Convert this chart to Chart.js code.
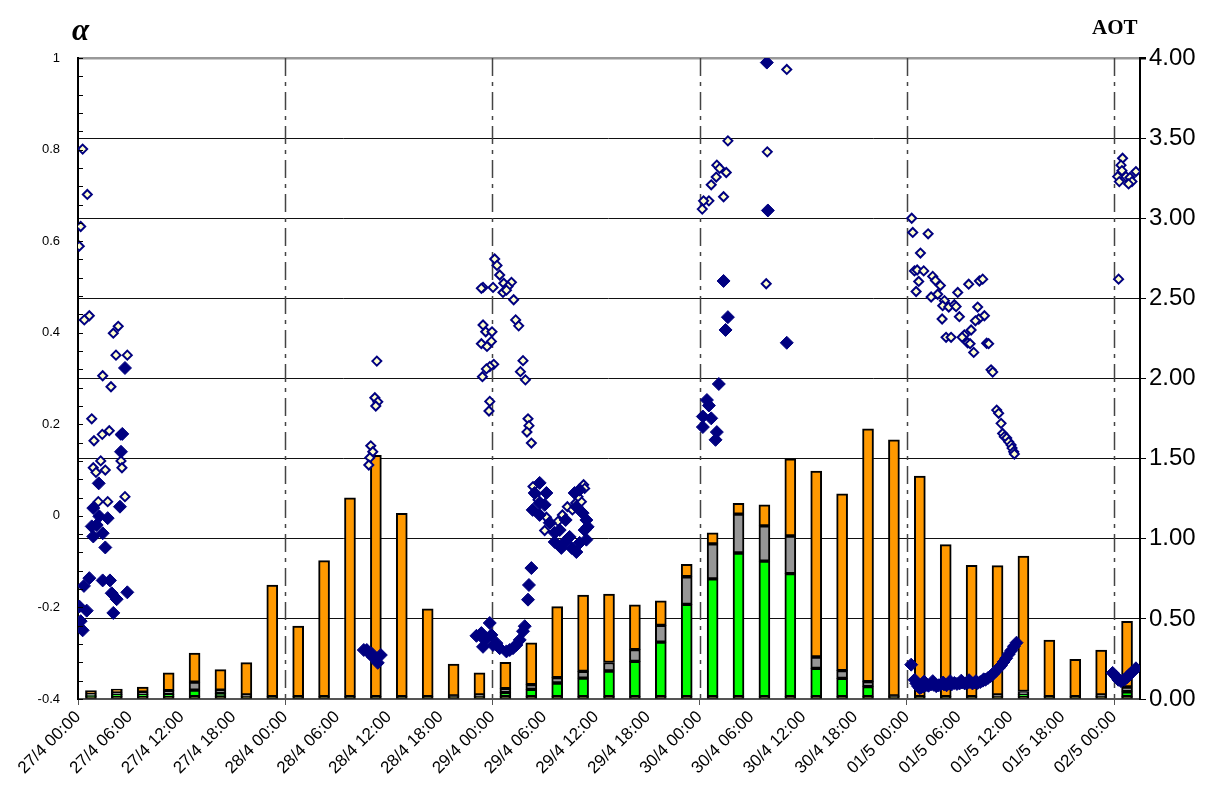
<!DOCTYPE html>
<html>
<head>
<meta charset="utf-8">
<script src="https://cdn.jsdelivr.net/npm/chart.js@4.4.1/dist/chart.umd.min.js"></script>
<style>
  body { margin: 0; background: #fff; }
  #wrap { position: relative; width: 1206px; height: 799px; }
  .lbl { position: absolute; font-family: "Liberation Serif", "DejaVu Serif", serif; font-weight: bold; color: #000; }
  #alpha { left: 72px; top: 12px; font-size: 31px; font-style: italic; }
  #aot { left: 1092px; top: 15px; font-size: 21px; }
</style>
</head>
<body>
<div id="wrap">
  <canvas id="chart" width="1206" height="799"></canvas>
  <div class="lbl" id="alpha">α</div>
  <div class="lbl" id="aot">AOT</div>
</div>
<script>
// hours since 27/4 00:00
const timeLabels = ['27/4 00:00', '27/4 06:00', '27/4 12:00', '27/4 18:00',
  '28/4 00:00', '28/4 06:00', '28/4 12:00', '28/4 18:00',
  '29/4 00:00', '29/4 06:00', '29/4 12:00', '29/4 18:00',
  '30/4 00:00', '30/4 06:00', '30/4 12:00', '30/4 18:00',
  '01/5 00:00', '01/5 06:00', '01/5 12:00', '01/5 18:00', '02/5 00:00'];
const dayLines = [24, 48, 72, 96, 120];

// AOT bars (3-hourly), stacked bottom to top
const barHours = [1.5, 4.5, 7.5, 10.5, 13.5, 16.5, 19.5, 22.5, 25.5, 28.5, 31.5, 34.5, 37.5, 40.5,
  43.5, 46.5, 49.5, 52.5, 55.5, 58.5, 61.5, 64.5, 67.5, 70.5, 73.5, 76.5, 79.5, 82.5, 85.5,
  88.5, 91.5, 94.5, 97.5, 100.5, 103.5, 106.5, 109.5, 112.5, 115.5, 118.5, 121.5];
const aotBase = [0.015, 0.015, 0.015, 0.015, 0.015, 0.015, 0.015, 0.015, 0.015, 0.015, 0.015, 0.015, 0.015, 0.015,
  0.015, 0.015, 0.015, 0.015, 0.015, 0.015, 0.015, 0.015, 0.015, 0.015, 0.015, 0.015, 0.015, 0.015, 0.015,
  0.015, 0.015, 0.015, 0.015, 0.015, 0.015, 0.015, 0.015, 0.015, 0.015, 0.015, 0.015];
const aotGreen = [0.005, 0.012, 0.012, 0.012, 0.04, 0.02, 0, 0, 0, 0, 0, 0, 0, 0,
  0, 0, 0.025, 0.045, 0.085, 0.115, 0.16, 0.22, 0.34, 0.575, 0.735, 0.896, 0.845, 0.767, 0.176,
  0.114, 0.062, 0, 0, 0, 0, 0, 0.012, 0, 0, 0, 0.03];
const aotGray = [0.012, 0.012, 0.015, 0.025, 0.05, 0.02, 0.01, 0, 0, 0, 0, 0, 0, 0,
  0.005, 0.01, 0.025, 0.03, 0.033, 0.042, 0.053, 0.073, 0.104, 0.173, 0.218, 0.243, 0.22, 0.235, 0.071,
  0.048, 0.031, 0.005, 0, 0, 0, 0.01, 0.02, 0, 0, 0.01, 0.03];
const aotOrange = [0.02, 0.023, 0.033, 0.112, 0.182, 0.128, 0.202, 0.696, 0.44, 0.848, 1.241, 1.505, 1.143, 0.548,
  0.198, 0.139, 0.164, 0.261, 0.443, 0.477, 0.427, 0.28, 0.154, 0.077, 0.069, 0.067, 0.132, 0.482, 1.16,
  1.104, 1.578, 1.598, 1.376, 0.948, 0.819, 0.807, 0.845, 0.353, 0.233, 0.281, 0.41];

// alpha, open diamonds
const openHours = [0.54, 1.08, 0.31, 0.15, 1.31, 0.73, 4.66, 4.09, 4.40, 5.71, 2.86, 3.82, 1.59, 1.85,
  2.81, 3.62, 4.94, 2.63, 4.98, 1.77, 2.08, 3.16, 5.09, 5.44, 2.35, 3.44,
  34.61, 34.38, 34.72, 34.49, 33.91, 34.14, 33.80, 33.68,
  48.26, 48.53, 48.84, 49.31, 50.20, 49.80, 46.91, 46.72, 48.07, 49.22, 49.62, 50.46, 50.69, 51.04,
  46.91, 47.22, 47.95, 47.88, 46.72, 47.37, 48.15, 47.69, 47.30, 46.84, 51.54, 51.24, 51.82, 47.69,
  47.60, 52.12, 52.23, 52.00, 52.51,
  52.70, 52.97, 53.28, 54.25, 54.05, 54.71, 55.59, 56.10, 56.68, 57.26, 57.64, 58.30, 58.56, 58.68, 57.91,
  82.09, 75.27, 79.83, 73.99, 74.31, 75.08, 73.92, 73.34, 74.77, 73.07, 72.45, 72.30, 79.71,
  96.56, 96.68, 98.46, 97.57, 96.88, 97.19, 97.95, 97.37, 98.99, 99.31, 99.88, 97.07, 98.81, 99.57,
  101.89, 103.16, 104.40, 104.78, 100.35, 100.15, 100.85, 101.50, 101.70, 100.08, 102.08, 104.20,
  104.98, 104.32, 103.94, 100.54, 101.12, 102.66, 102.40, 103.44, 103.04, 103.32, 103.74, 105.24,
  105.47, 105.75, 105.94, 106.40, 106.63, 106.91, 107.09, 107.29, 107.56, 107.79, 108.07, 108.18,
  108.37, 108.45,
  120.98, 120.80, 120.91, 122.53, 120.41, 121.38, 121.84, 120.60, 122.07, 121.68, 120.52];
const openAlpha = [0.801, 0.702, 0.632, 0.589, 0.437, 0.428, 0.414, 0.399, 0.351, 0.351, 0.306, 0.282, 0.212, 0.164,
  0.178, 0.186, 0.177, 0.120, 0.120, 0.105, 0.095, 0.100, 0.105, 0.042, 0.031, 0.031,
  0.338, 0.258, 0.249, 0.240, 0.153, 0.140, 0.127, 0.111,
  0.561, 0.547, 0.526, 0.508, 0.510, 0.501, 0.499, 0.497, 0.499, 0.488, 0.493, 0.472, 0.428, 0.415,
  0.417, 0.402, 0.402, 0.381, 0.376, 0.370, 0.331, 0.326, 0.321, 0.304, 0.339, 0.315, 0.297, 0.250,
  0.229, 0.212, 0.197, 0.183, 0.159,
  0.064, 0.046, 0.035, -0.003, -0.032, -0.017, -0.012, 0.002, 0.020, 0.013, 0.028, 0.031, 0.068, 0.060, 0.042,
  0.975, 0.819, 0.795, 0.766, 0.759, 0.750, 0.740, 0.723, 0.697, 0.688, 0.688, 0.670, 0.507,
  0.650, 0.619, 0.616, 0.574, 0.535, 0.537, 0.535, 0.512, 0.523, 0.514, 0.503, 0.490, 0.478, 0.484,
  0.488, 0.506, 0.513, 0.517, 0.470, 0.459, 0.456, 0.461, 0.457, 0.430, 0.435, 0.456,
  0.437, 0.430, 0.426, 0.390, 0.390, 0.395, 0.390, 0.406, 0.378, 0.376, 0.357, 0.377,
  0.376, 0.319, 0.314, 0.231, 0.224, 0.202, 0.180, 0.173, 0.170, 0.162, 0.155, 0.148,
  0.140, 0.135,
  0.781, 0.766, 0.754, 0.752, 0.741, 0.741, 0.739, 0.730, 0.730, 0.725, 0.517];

// alpha, filled diamonds
const filledHours = [5.44, 5.13, 4.98, 2.40, 1.77, 4.86, 2.47, 3.44, 1.59, 2.16, 2.86, 1.77, 3.16, 1.31,
  0.69, 2.86, 3.70, 3.90, 4.48, 5.71, 0.15, 4.09, 1.01, 0.31, 0.54,
  33.45, 34.03, 34.49, 34.72, 34.14, 33.68, 33.10, 35.07,
  47.69, 46.72, 47.11, 47.88, 46.91, 48.07, 48.84, 49.62, 50.38, 51.16, 51.54, 51.74, 46.15, 48.46,
  50.00, 50.77, 52.51, 52.23, 52.12,
  53.47, 52.89, 53.47, 52.66, 53.47, 54.63, 55.21, 55.21, 55.98, 56.37, 56.94, 57.72, 58.10, 58.88,
  58.68, 58.88, 58.45, 57.72, 57.52, 58.10, 54.25, 54.05, 55.79, 57.18, 59.03, 56.48,
  79.78, 79.90, 74.77, 75.27, 75.00, 82.09, 74.22, 72.84, 73.07, 72.37, 73.34, 72.37, 73.99, 73.84,
  96.5, 96.9, 97.1, 97.3, 97.5, 97.7, 97.9, 98.2, 98.5, 98.8, 99.1, 99.4, 99.7, 100.0, 100.3,
  100.6, 100.9, 101.2, 101.5, 101.8, 102.1, 102.4, 102.7, 103.0, 103.3, 103.6, 103.9, 104.2, 104.5,
  104.8, 105.1, 105.4, 105.7, 106.0, 106.3, 106.6, 106.9, 107.2, 107.5, 107.8, 108.1, 108.4, 108.7,
  98.0, 99.0, 100.2, 101.0, 102.3, 103.2, 104.0, 104.9,
  119.83, 120.22, 120.49, 120.80, 121.18, 121.53, 121.76, 122.11, 122.53];
const filledAlpha = [0.323, 0.179, 0.140, 0.071, 0.017, 0.020, -0.001, -0.005, -0.023, -0.020, -0.038, -0.045, -0.069, -0.136,
  -0.153, -0.141, -0.141, -0.169, -0.182, -0.167, -0.198, -0.212, -0.207, -0.230, -0.250,
  -0.293, -0.301, -0.312, -0.321, -0.308, -0.299, -0.293, -0.304,
  -0.234, -0.256, -0.271, -0.260, -0.286, -0.282, -0.289, -0.296, -0.289, -0.271, -0.252, -0.241, -0.262, -0.278,
  -0.293, -0.282, -0.114, -0.151, -0.183,
  0.072, 0.050, 0.028, 0.013, 0.002, -0.015, -0.037, -0.057, -0.070, -0.057, -0.046, -0.079, -0.059, -0.052,
  -0.031, -0.009, 0.006, 0.020, 0.050, 0.057, 0.050, 0.024, -0.031, -0.070, -0.024, -0.009,
  0.990, 0.667, 0.513, 0.434, 0.406, 0.378, 0.288, 0.253, 0.241, 0.217, 0.213, 0.194, 0.183, 0.166,
  -0.325, -0.358, -0.366, -0.372, -0.376, -0.374, -0.372, -0.370, -0.371, -0.368, -0.369, -0.372, -0.370, -0.367,
  -0.368, -0.370, -0.366, -0.368, -0.365, -0.367, -0.366, -0.364, -0.366, -0.365, -0.363, -0.366, -0.364, -0.365,
  -0.363, -0.360, -0.358, -0.354, -0.350, -0.345, -0.339, -0.333, -0.327, -0.319, -0.311, -0.302, -0.294, -0.285, -0.277,
  -0.362, -0.361, -0.364, -0.361, -0.360, -0.359, -0.361, -0.357,
  -0.343, -0.351, -0.358, -0.361, -0.358, -0.352, -0.347, -0.341, -0.333];

const toPoints = (xs, ys) => xs.map((x, i) => ({ x: x, y: ys[i] }));

const barSet = (label, values, color) => ({
  type: 'bar',
  label: label,
  data: toPoints(barHours, values),
  yAxisID: 'y1',
  stack: 'aot',
  grouped: false,
  backgroundColor: color,
  borderColor: '#000',
  borderWidth: 2,
  borderSkipped: false,
  barThickness: 11,
  order: 1
});

// day separators (dash-dot) and small inner ticks on the alpha axis
const extras = {
  id: 'extras',
  beforeDatasetsDraw(chart) {
    const { ctx, chartArea, scales } = chart;
    ctx.save();
    ctx.strokeStyle = '#444';
    ctx.lineWidth = 1.5;
    ctx.setLineDash([18, 6, 4, 6]);
    dayLines.forEach(h => {
      const x = Math.round(scales.x.getPixelForValue(h)) + 0.5;
      ctx.beginPath();
      ctx.moveTo(x, chartArea.top);
      ctx.lineTo(x, chartArea.bottom);
      ctx.stroke();
    });
    ctx.restore();
  },
  afterDraw(chart) {
    const { ctx, chartArea, scales } = chart;
    ctx.save();
    ctx.strokeStyle = '#000';
    ctx.lineWidth = 1;
    for (let i = 0; i <= 35; i++) {
      const y = Math.round(scales.y.getPixelForValue(-0.4 + i * 0.04)) + 0.5;
      ctx.beginPath();
      ctx.moveTo(chartArea.left, y);
      ctx.lineTo(chartArea.left + 5, y);
      ctx.stroke();
    }
    ctx.restore();
  }
};

new Chart(document.getElementById('chart'), {
  type: 'bar',
  data: {
    datasets: [
      {
        type: 'scatter',
        label: 'alpha (filled)',
        data: toPoints(filledHours, filledAlpha),
        yAxisID: 'y',
        pointStyle: 'rectRot',
        pointRadius: 6.5,
        backgroundColor: '#000080',
        borderColor: '#000080',
        borderWidth: 1,
        order: 0
      },
      {
        type: 'scatter',
        label: 'alpha (open)',
        data: toPoints(openHours, openAlpha),
        yAxisID: 'y',
        pointStyle: 'rectRot',
        pointRadius: 4.5,
        backgroundColor: '#FFFFCC',
        borderColor: '#000080',
        borderWidth: 2,
        order: 0
      },
      barSet('base', aotBase, '#333300'),
      barSet('fine', aotGreen, '#00FF00'),
      barSet('mid', aotGray, '#969696'),
      barSet('coarse', aotOrange, '#FF9900')
    ]
  },
  options: {
    responsive: false,
    animation: false,
    layout: { padding: { top: 58, left: 0, right: 0, bottom: 0 } },
    plugins: { legend: { display: false }, tooltip: { enabled: false } },
    scales: {
      x: {
        type: 'linear',
        min: 0,
        max: 123,
        offset: false,
        afterFit: s => { s.height = 100; },
        border: { color: '#555', width: 2 },
        grid: {
          offset: false,
          drawOnChartArea: false,
          tickLength: 6,
          tickColor: c => (c.tick && c.tick.value % 24 === 0) ? '#555' : 'rgba(0,0,0,0)'
        },
        ticks: {
          stepSize: 6,
          includeBounds: false,
          autoSkip: false,
          maxRotation: 45,
          minRotation: 45,
          padding: 2,
          color: '#000',
          font: { family: 'Liberation Sans, Arial', size: 17 },
          callback: v => (v % 6 === 0 ? timeLabels[v / 6] : '')
        }
      },
      y: {
        position: 'left',
        min: -0.4,
        max: 1,
        afterFit: s => { s.width = 78; },
        border: { color: '#000', width: 2 },
        grid: { drawOnChartArea: false, drawTicks: false },
        ticks: {
          stepSize: 0.2,
          padding: 18,
          color: '#000',
          font: { family: 'Liberation Sans, Arial', size: 13 },
          callback: v => String(Math.round(v * 10) / 10)
        }
      },
      y1: {
        position: 'right',
        stacked: true,
        min: 0,
        max: 4,
        afterFit: s => { s.width = 66; },
        border: { color: '#000', width: 2 },
        grid: {
          color: c => c.tick.value === 4 ? '#999' : (c.tick.value === 0 ? 'rgba(0,0,0,0)' : '#111'),
          lineWidth: c => c.tick.value === 4 ? 2.5 : 1,
          tickColor: '#000',
          tickLength: 6
        },
        ticks: {
          stepSize: 0.5,
          padding: 3,
          color: '#000',
          font: { family: 'Liberation Sans, Arial', size: 24 },
          callback: v => v.toFixed(2)
        }
      }
    }
  },
  plugins: [extras]
});
</script>
</body>
</html>
